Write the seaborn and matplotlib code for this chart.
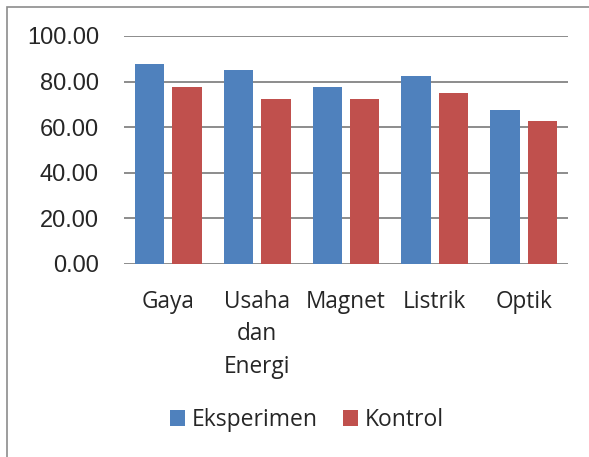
import pandas as pd
import seaborn as sns
import matplotlib.pyplot as plt
from matplotlib.patches import Rectangle
from matplotlib.ticker import FormatStrFormatter

categories = ["Gaya", "Usaha\ndan\nEnergi", "Magnet", "Listrik", "Optik"]
eksperimen = [87.5, 85.0, 77.5, 82.5, 67.5]
kontrol = [77.5, 72.5, 72.5, 75.0, 62.5]
groups = ["Eksperimen", "Kontrol"]
colors = ["#4F81BD", "#C0504D"]

df = pd.DataFrame({
    "kategori": categories * 2,
    "nilai": eksperimen + kontrol,
    "kelompok": [groups[0]] * len(categories) + [groups[1]] * len(categories),
})

sns.set_style("white")
plt.rcParams["font.family"] = ["Open Sans", "DejaVu Sans"]

fig = plt.figure(figsize=(5.89, 4.57), dpi=100)
ax = fig.add_axes([124 / 589, 1 - 264 / 457, (568 - 124) / 589, (264 - 36) / 457])

sns.barplot(data=df, x="kategori", y="nilai", hue="kelompok", order=categories,
            hue_order=groups, palette=colors, width=0.84, gap=0.21,
            saturation=1, linewidth=0, ax=ax, zorder=3)

ax.set_ylim(0, 100)
ax.set_yticks(range(0, 101, 20))
ax.yaxis.set_major_formatter(FormatStrFormatter("%.2f"))
ax.grid(axis="y", color="#8c8c8c", linewidth=1.4, zorder=0)
ax.set_axisbelow(True)
for s in ax.spines.values():
    s.set_visible(False)
ax.set_xlabel("")
ax.set_ylabel("")
ax.tick_params(axis="y", length=0, pad=18, labelsize=17)
ax.tick_params(axis="x", length=0, pad=19, labelsize=16.3)
for lab in ax.get_yticklabels():
    lab.set_family(["Liberation Sans", "DejaVu Sans"])
for lab in ax.get_xticklabels():
    lab.set_linespacing(1.45)
    lab.set_verticalalignment("top")

ax.legend_.remove()
handles, labels = ax.get_legend_handles_labels()
fig.legend(handles, labels, loc="center", bbox_to_anchor=(307 / 589, 1 - 420 / 457),
           ncol=2, frameon=False, fontsize=16.5, handlelength=0.65, handleheight=0.65,
           handletextpad=0.3, columnspacing=1.1, borderpad=0)

fig.add_artist(Rectangle((7 / 589, -0.1), 1.0, 1 - 7 / 457 + 0.1, transform=fig.transFigure,
                         fill=False, edgecolor="#8c8c8c", linewidth=1.2))

fig.savefig("out.png", dpi=100)
